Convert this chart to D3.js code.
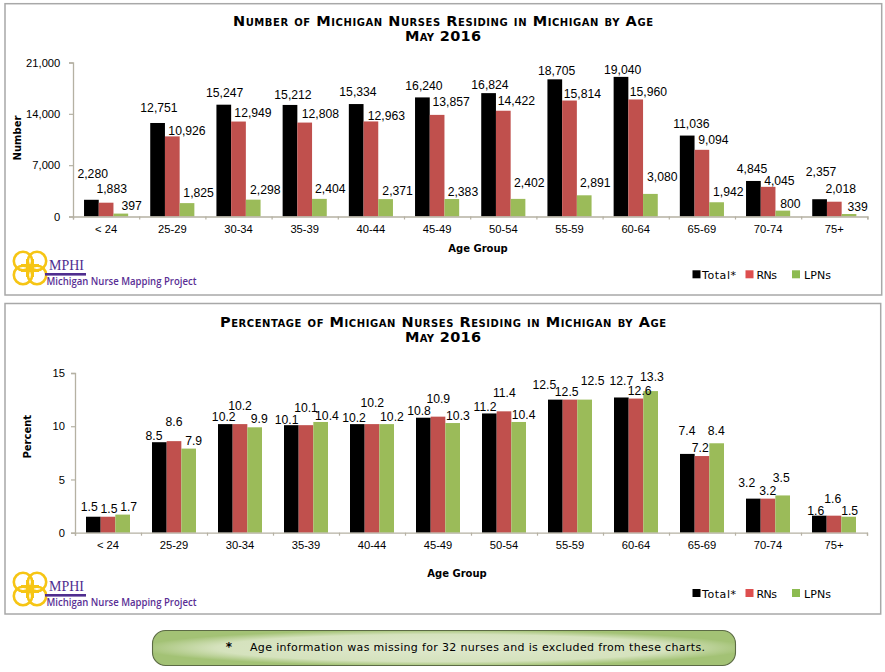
<!DOCTYPE html>
<html><head><meta charset="utf-8">
<script src="https://cdn.jsdelivr.net/npm/d3@7"></script>
<style>html,body{margin:0;padding:0;background:#fff}svg{display:block}</style>
</head><body>
<svg id="c" width="885" height="672"></svg>
<script>
const categories = ["< 24","25-29","30-34","35-39","40-44","45-49","50-54","55-59","60-64","65-69","70-74","75+"];
const seriesNames = ["Total*","RNs","LPNs"];
const countTotal = [2280,12751,15247,15212,15334,16240,16824,18705,19040,11036,4845,2357];
const countRN    = [1883,10926,12949,12808,12963,13857,14422,15814,15960,9094,4045,2018];
const countLPN   = [397,1825,2298,2404,2371,2383,2402,2891,3080,1942,800,339];
const pctTotal = [1.5,8.5,10.2,10.1,10.2,10.8,11.2,12.5,12.7,7.4,3.2,1.6];
const pctRN    = [1.5,8.6,10.2,10.1,10.2,10.9,11.4,12.5,12.6,7.2,3.2,1.6];
const pctLPN   = [1.7,7.9,9.9,10.4,10.2,10.3,10.4,12.5,13.3,8.4,3.5,1.5];
const countTicks = [0,7000,14000,21000];
const pctTicks = [0,5,10,15];
const barColors = ["#000000","#c0504d","#9bbb59"];
const legendColors = ["#000000","#dd4f4f","#8cbb50"];

// Hand-placed data-label nudges (label centre relative to bar-top centre), one list per series.
const countNudgeX = [[1.3,1.4,.9,3,1.8,1.6,1.4,1.9,1.7,4.2,-1.4,1.4],[5.6,14.7,14.5,15.7,15.5,14.1,13.1,12.9,12.7,11.5,11.3,6.4],[10.8,11.6,12.1,10.9,12,11.1,11.3,11.1,11.9,11.7,7.5,8.6]];
const countNudgeY = [[-26,-15,-12,-10,-12,-12,-9,-9,-7,-12,-12,-28],[-14,-6,-9,-9,-6,-13,-10,-7,-8,-10,-6.5,-13],[-8,-10.4,-9.6,-10,-9,-7.3,-16,-12.6,-17,-10.6,-7.3,-7.3]];
const pctNudgeX = [[-4,-5.3,-1.6,-4.7,-3.3,-4.3,-4.3,-11,0,-.3,-6.6,-3.6],[1,0,0,0,.3,.3,.3,-3.3,3.7,-1.7,-.3,-1.3],[6,5,4.6,6.3,5.3,5.3,5,8,1.3,-.4,-1.4,1]];
const pctNudgeY = [[-10,-7,-7,-6,-6.4,-7.4,-6.4,-14.6,-16.8,-23,-16,-5],[-8,-19.4,-18.4,-17.5,-21.4,-17.9,-19,-8.3,-7.8,-8.7,-7.9,-17],[-7.6,-7.9,-8.6,-6.3,-7.4,-7.3,-7.3,-18.9,-14.4,-12.6,-18,-6]];

const svg = d3.select("#c");
const defs = svg.append("defs");
const grad = defs.append("radialGradient").attr("id","noteFill").attr("cx","50%").attr("cy","50%").attr("r","52%");
grad.append("stop").attr("offset","0%").attr("stop-color","#dfe9cd");
grad.append("stop").attr("offset","75%").attr("stop-color","#d5e2bd");
grad.append("stop").attr("offset","100%").attr("stop-color","#a3c275");

const sans = "'Liberation Sans',Arial,sans-serif";
const verdana = "'DejaVu Sans',Verdana,sans-serif";
const axisColor = "#b5b1a3";

function logo(g, cx, cy){
  const gold = "#f6c514";
  const L = g.append("g").attr("fill","none").attr("stroke",gold);
  [[-7,-7],[7,-7],[-7,7],[7,7]].forEach(([a,b])=>{
    L.append("circle").attr("cx",cx+a).attr("cy",cy+b).attr("r",9.2).attr("stroke-width",2.6);
  });
  L.append("path").attr("d",`M${cx-9} ${cy-3}H${cx+9}M${cx-9} ${cy+3}H${cx+9}M${cx-3} ${cy-9}V${cy+9}M${cx+3} ${cy-9}V${cy+9}`).attr("stroke-width",2);
  g.append("text").attr("x",cx+19).attr("y",cy+1.5).attr("font-family","'Liberation Serif',serif").attr("font-size",15).attr("fill","#4f2d8f").attr("textLength",35).attr("lengthAdjust","spacingAndGlyphs").text("MPHI");
  g.append("rect").attr("x",cx+15).attr("y",cy+5).attr("width",41).attr("height",2.6).attr("fill","#4f2d8f");
  g.append("text").attr("x",cx+16.5).attr("y",cy+16.5).attr("font-family","'Open Sans',sans-serif").attr("font-size",11).attr("font-weight",600).attr("fill","#5a2f95").attr("textLength",150).attr("lengthAdjust","spacingAndGlyphs").text("Michigan Nurse Mapping Project");
}

function panel(o){
  const g = svg.append("g");
  g.append("rect").attr("x",o.box[0]).attr("y",o.box[1]).attr("width",o.box[2]).attr("height",o.box[3]).attr("fill","#fff").attr("stroke","#a8a8a8").attr("stroke-width",1.5);
  // titles
  o.titles.forEach((t,i)=>{
    g.append("text").attr("x",443).attr("y",o.titleY[i]).attr("text-anchor","middle")
      .attr("font-family","'DejaVu Sans',sans-serif").attr("font-weight","bold").attr("font-size",14.5)
      .style("font-variant","small-caps").attr("fill","#000")
      .attr("textLength",o.titleLen[i]).attr("lengthAdjust","spacing").text(t);
  });
  const x0 = d3.scaleBand().domain(categories).range([o.left,o.right]).paddingInner(1/3).paddingOuter(1/6);
  const x1 = d3.scaleBand().domain(d3.range(3)).range([0,x0.bandwidth()]);
  const y = d3.scaleLinear().domain([0,o.max]).range([o.bottom,o.top]);
  const edges = d3.scaleLinear().domain([0,categories.length]).range([o.left,o.right]);

  o.series.forEach((vals,s)=>{
    g.append("g").attr("fill",barColors[s]).selectAll("rect").data(vals).join("rect")
      .attr("x",(d,i)=>x0(categories[i])+x1(s)).attr("width",x1.bandwidth())
      .attr("y",d=>y(d)).attr("height",d=>y(0)-y(d));
  });
  // axes
  const ya = g.append("g").attr("transform",`translate(${o.left},0)`)
    .call(d3.axisLeft(y).tickValues(o.ticks).tickFormat(o.tickFmt).tickSize(4).tickPadding(o.tickPad));
  const xa = g.append("g").attr("transform",`translate(0,${o.bottom})`)
    .call(d3.axisBottom(edges).tickValues(d3.range(categories.length+1)).tickFormat("").tickSize(3));
  const xl = g.append("g").attr("transform",`translate(0,${o.bottom})`)
    .call(d3.axisBottom(x0).tickSize(0).tickPadding(8.5));
  xl.select(".domain").remove();
  [ya,xa].forEach(a=>{a.selectAll(".domain").attr("stroke",axisColor).attr("stroke-width",1.3);a.selectAll("line").attr("stroke",axisColor).attr("stroke-width",1.2);});
  [ya,xl].forEach(a=>a.selectAll("text").attr("font-family",sans).attr("font-size",11.2).attr("fill","#000"));
  // data labels
  o.series.forEach((vals,s)=>{
    g.append("g").selectAll("text").data(vals).join("text")
      .attr("x",(d,i)=>x0(categories[i])+x1(s)+x1.bandwidth()/2+o.nx[s][i])
      .attr("y",(d,i)=>y(d)+o.ny[s][i]).attr("dy","0.36em").attr("text-anchor","middle")
      .attr("font-family",sans).attr("font-size",12.2).attr("fill","#000").text(o.labelFmt);
  });
  // axis titles
  g.append("text").attr("x",o.xTitle[0]).attr("y",o.xTitle[1]).attr("text-anchor","middle").attr("font-family",verdana).attr("font-weight","bold").attr("font-size",10).text("Age Group");
  g.append("text").attr("transform",`translate(${o.yTitle[0]},${o.yTitle[1]}) rotate(-90)`).attr("text-anchor","middle").attr("font-family",verdana).attr("font-weight","bold").attr("font-size",10).text(o.yLabel);
  // legend
  const legendX = d3.scaleOrdinal().domain(seriesNames).range([692.5,745.5,792]);
  const labelX = d3.scaleOrdinal().domain(seriesNames).range([702,756.5,804]);
  const labelW = d3.scaleOrdinal().domain(seriesNames).range([34,20.5,27]);
  seriesNames.forEach((n,s)=>{
    g.append("rect").attr("x",legendX(n)).attr("y",o.legendY).attr("width",8).attr("height",8).attr("fill",legendColors[s]);
    g.append("text").attr("x",labelX(n)).attr("y",o.legendY+8.7).attr("font-family",verdana).attr("font-size",11).attr("fill","#000").attr("textLength",labelW(n)).text(n);
  });
  logo(g,30,o.logoY);
}

panel({box:[5,3.7,876.7,291.3],titles:["Number of Michigan Nurses Residing in Michigan by Age","May 2016"],titleY:[26,41],titleLen:[420,76],
  left:73,right:867.4,top:62.5,bottom:216.5,max:21000,ticks:countTicks,tickFmt:d3.format(","),labelFmt:d3.format(","),tickPad:8.7,
  series:[countTotal,countRN,countLPN],nx:countNudgeX,ny:countNudgeY,xTitle:[478,252],yTitle:[21,138],yLabel:"Number",legendY:270.3,logoY:268});
panel({box:[5,303.5,875.7,310.5],titles:["Percentage of Michigan Nurses Residing in Michigan by Age","May 2016"],titleY:[326.7,341.7],titleLen:[446,76],
  left:75,right:867,top:373,bottom:532.7,max:15,ticks:pctTicks,tickFmt:d3.format("d"),labelFmt:d3.format(".1f"),tickPad:6,
  series:[pctTotal,pctRN,pctLPN],nx:pctNudgeX,ny:pctNudgeY,xTitle:[457,577],yTitle:[30.5,436.7],yLabel:"Percent",legendY:589,logoY:589});

// footnote
svg.append("rect").attr("x",152.5).attr("y",630.5).attr("width",583).attr("height",35).attr("rx",13).attr("fill","url(#noteFill)").attr("stroke","#5c6b45").attr("stroke-width",1.1);
svg.append("text").attr("x",229).attr("y",651).attr("text-anchor","middle").attr("font-family",verdana).attr("font-size",12).attr("font-weight","bold").text("*");
svg.append("text").attr("x",250).attr("y",651).attr("font-family",verdana).attr("font-size",11).attr("fill","#000").attr("textLength",455).attr("lengthAdjust","spacing").text("Age information was missing for 32 nurses and is excluded from these charts.");
</script>
</body></html>
